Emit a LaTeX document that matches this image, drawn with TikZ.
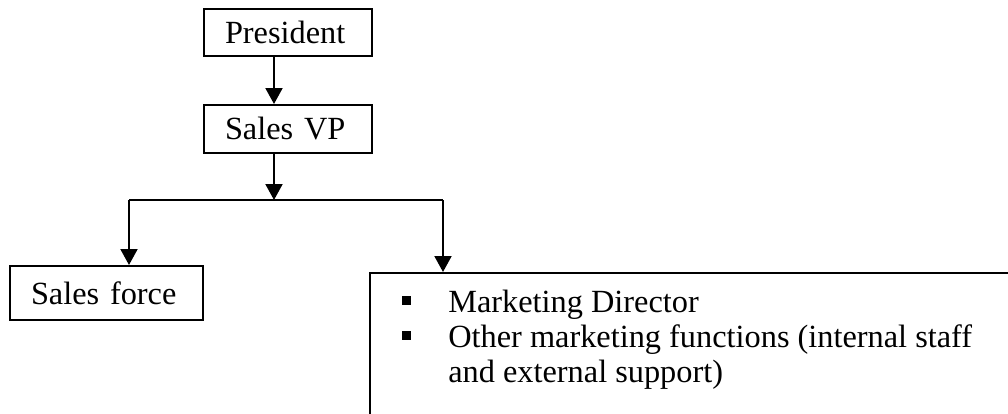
\documentclass[tikz,border=0pt]{standalone}
\usepackage{fontspec}
\setmainfont{Liberation Serif}
\usetikzlibrary{calc,arrows.meta,positioning}

\newcommand{\chartfont}{\fontsize{18.4}{19.8}\selectfont}
\newcommand{\squarebullet}{\makebox[9.2mm][l]{\rule[1.6mm]{1.8mm}{1.8mm}}}

\tikzset{
  chartbox/.style={draw, line width=0.4mm, inner xsep=4.2mm, inner ysep=0pt,
    align=left, font=\chartfont},
  chartarrow/.style={line width=0.4mm, -{Triangle[length=3.2mm,width=3.4mm]}},
  chartline/.style={line width=0.35mm},
}

\begin{document}
\begin{tikzpicture}[x=0.2mm, y=-0.2mm]

    %\draw (0,0) grid[step=50] (1008,413);
    \useasboundingbox (0,0) rectangle (1008,413);
    \clip (0,0) rectangle (1008,413);

    \coordinate (spine) at (274,0);
    \coordinate (split) at (274,200);
    \coordinate (lbr) at (129,200);
    \coordinate (rbr) at (443,200);

    \node[chartbox, anchor=north west, text width=25.2mm, minimum height=9.4mm]
        (pres) at (203,8) {President};
    \node[chartbox, anchor=north west, text width=25.2mm, minimum height=9.6mm]
        (vp) at (203,104) {Sales VP};
    \node[chartbox, anchor=north west, text width=30.2mm, minimum height=10.8mm]
        (sf) at (9,265) {Sales force};

    % the marketing box runs off the page
    \node[draw, line width=0.4mm, anchor=north west, minimum width=140mm,
        minimum height=40mm] (mkt) at (369,272) {};
    \node[anchor=north west, inner sep=0pt, align=left, font=\chartfont]
        (mktlist) at (402,290) {\squarebullet Marketing Director\\
        \squarebullet Other marketing functions (internal staff\\
        \hspace*{9.2mm}and external support)};

	\draw[chartarrow] (pres.south -| spine) -- (vp.north -| spine);
	\draw[chartarrow] (vp.south -| spine) -- (split);
	
	\draw[chartline] (lbr) -- (rbr);
	\draw[chartarrow] (lbr) -- (lbr |- sf.north);
	\draw[chartarrow] (rbr) -- (rbr |- mkt.north);

\end{tikzpicture}
\end{document}
